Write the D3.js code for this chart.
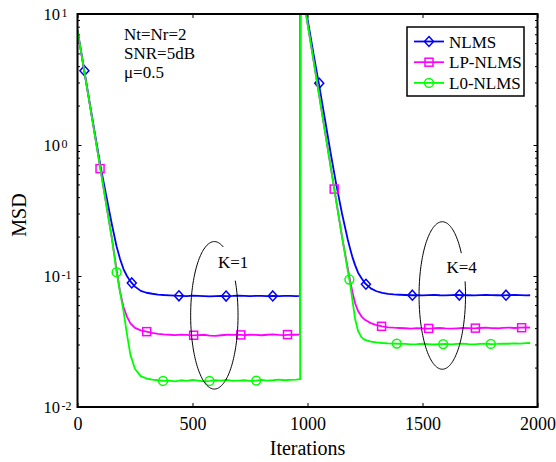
<!DOCTYPE html>
<html>
<head>
<meta charset="utf-8">
<script src="https://cdn.jsdelivr.net/npm/d3@7"></script>
<style>
  body { margin: 0; background: #fff; }
  text { font-family: "Liberation Serif", "Times New Roman", serif !important; fill: #000; }
</style>
</head>
<body>
<div id="chart"></div>
<script>
"use strict";

// == DATA ==
// run 1 (K=1) and run 2 (K=4), iterations
var run1Iter = [0, 25, 50, 75, 100, 125, 150, 170, 185, 200, 215, 230, 250, 275, 300,
  325, 350, 375, 400, 425, 450, 475, 500, 525, 550, 575, 600, 625, 650, 675, 700,
  725, 750, 775, 800, 825, 850, 875, 900, 925, 950, 968];
var run2Iter = [969, 1000, 1025, 1050, 1075, 1100, 1125, 1150, 1175, 1185, 1195, 1207,
  1220, 1235, 1250, 1275, 1300, 1325, 1350, 1375, 1400,
  1425, 1450, 1475, 1500, 1525, 1550, 1575, 1600, 1625, 1650, 1675, 1700, 1725,
  1750, 1775, 1800, 1825, 1850, 1875, 1900, 1925, 1950, 1968];

var nlmsRun1 = [7.5, 4.1, 2.25, 1.24, 0.69, 0.41, 0.245, 0.168, 0.135, 0.113, 0.1, 0.091, 0.083, 0.077, 0.0745,
  0.0732, 0.0722, 0.0716, 0.0712, 0.0708, 0.0706, 0.0703, 0.0707, 0.0704, 0.0701, 0.0698, 0.0703, 0.0706,
  0.0702, 0.0704, 0.0708, 0.0705, 0.0702, 0.0704, 0.0706, 0.0703, 0.0705, 0.0702, 0.0704, 0.0706, 0.0703, 0.0704];
var lpRun1 = [7.5, 4.09, 2.22, 1.2, 0.652, 0.353, 0.191, 0.112, 0.076, 0.058, 0.049, 0.0435, 0.0402, 0.0385, 0.0376,
  0.0368, 0.0362, 0.0358, 0.0356, 0.0354, 0.0357, 0.0355, 0.0352, 0.0354, 0.0356, 0.0351, 0.0349, 0.0353,
  0.0356, 0.0355, 0.0357, 0.0354, 0.0356, 0.0355, 0.0353, 0.0356, 0.0358, 0.0355, 0.0354, 0.0357, 0.0356, 0.0358];
var l0Run1 = [7.5, 4.09, 2.22, 1.2, 0.652, 0.353, 0.191, 0.107, 0.075, 0.054, 0.036, 0.025, 0.0195, 0.0172, 0.0165,
  0.0162, 0.016, 0.0158, 0.0159, 0.0157, 0.016, 0.0158, 0.0161, 0.0159, 0.0157, 0.0158, 0.016, 0.0159,
  0.0161, 0.0158, 0.0159, 0.016, 0.0158, 0.0159, 0.0161, 0.0159, 0.016, 0.0162, 0.016, 0.0161, 0.0162, 0.0163];

var nlmsRun2 = [19, 9.2, 5.1, 2.9, 1.6, 0.88, 0.5, 0.3, 0.19, 0.162, 0.14, 0.121, 0.106, 0.096, 0.088,
  0.0805, 0.0765, 0.0742, 0.073, 0.0723, 0.0719,
  0.0716, 0.0713, 0.0715, 0.0712, 0.0714, 0.0717, 0.0713, 0.0711, 0.0714, 0.0716, 0.0713, 0.0715,
  0.0712, 0.0714, 0.0717, 0.0715, 0.0713, 0.0711, 0.0714, 0.0716, 0.0714, 0.0712, 0.0713];
var lpRun2 = [18.5, 8.5, 4.56, 2.44, 1.3, 0.697, 0.373, 0.2, 0.115, 0.093, 0.076, 0.062, 0.054, 0.049, 0.0463,
  0.0437, 0.0422, 0.0412, 0.0406, 0.0403, 0.0401,
  0.0399, 0.0397, 0.04, 0.0398, 0.0396, 0.0399, 0.0401, 0.0398, 0.0396, 0.0399, 0.0402, 0.04,
  0.0398, 0.0401, 0.0403, 0.04, 0.0399, 0.0402, 0.0404, 0.0401, 0.0403, 0.0405, 0.0404];
var l0Run2 = [18.5, 8.5, 4.56, 2.44, 1.3, 0.697, 0.373, 0.2, 0.11, 0.088, 0.066, 0.047, 0.038, 0.034, 0.0325,
  0.0316, 0.0311, 0.0308, 0.0306, 0.0305, 0.0304,
  0.0303, 0.0301, 0.0302, 0.0304, 0.0302, 0.03, 0.0302, 0.0303, 0.0301, 0.0303, 0.0305, 0.0302,
  0.0301, 0.0303, 0.0304, 0.0302, 0.0303, 0.0305, 0.0304, 0.0306, 0.0305, 0.0307, 0.0308];

// marker positions
var nlmsMarkIter = [30, 236, 441, 646, 849, 1051, 1254, 1456, 1660, 1863];
var nlmsMarkMsd = [3.69, 0.0885, 0.0706, 0.0703, 0.0705, 2.96, 0.0865, 0.0714, 0.0715, 0.0713];
var lpMarkIter = [98, 301, 505, 710, 913, 1116, 1322, 1527, 1730, 1931];
var lpMarkMsd = [0.66, 0.0376, 0.0353, 0.0355, 0.0357, 0.461, 0.0413, 0.0398, 0.04, 0.0403];
var l0MarkIter = [170, 372, 574, 777, 1182, 1388, 1590, 1797];
var l0MarkMsd = [0.107, 0.0158, 0.0158, 0.0159, 0.094, 0.0305, 0.0302, 0.0303];

var seriesNames = ["NLMS", "LP-NLMS", "L0-NLMS"];
var xTicks = [0, 500, 1000, 1500, 2000];
var yTicks = [0.01, 0.1, 1, 10];
var yExps = ["-2", "-1", "0", "1"];
var infoLines = ["Nt=Nr=2", "SNR=5dB", "\u03bc=0.5"];

// == BOILERPLATE ==
var W = 556, H = 462;
var margin = { top: 14, right: 18.5, bottom: 55, left: 77.5 },
    width = W - margin.left - margin.right,
    height = H - margin.top - margin.bottom;

var svg = d3.select("#chart")
            .append("svg")
            .attr("width", W)
            .attr("height", H);

var x = d3.scaleLinear().domain([0, 2000]).range([margin.left, margin.left + width]);
var y = d3.scaleLog().domain([0.01, 10]).range([margin.top + height, margin.top]);

svg.append("clipPath").attr("id", "plotclip")
   .append("rect")
   .attr("x", margin.left).attr("y", margin.top)
   .attr("width", width).attr("height", height);

// minor log ticks
var minor = [];
[0.01, 0.1, 1].forEach(function (d) {
  for (var k = 2; k <= 9; k++) minor.push(d * k);
});

var axes = svg.append("g").attr("class", "axes");
axes.append("g").attr("transform", "translate(0," + (margin.top + height) + ")")
    .call(d3.axisBottom(x).tickValues(xTicks).tickSizeInner(-4).tickSizeOuter(0).tickPadding(10)
          .tickFormat(d3.format("d")));
axes.append("g").attr("transform", "translate(0," + margin.top + ")")
    .call(d3.axisTop(x).tickValues(xTicks).tickSizeInner(-4).tickSizeOuter(0).tickFormat(""));
axes.append("g").attr("transform", "translate(" + margin.left + ",0)")
    .call(d3.axisLeft(y).tickValues(yTicks).tickSizeInner(-4).tickSizeOuter(0).tickFormat(""));
axes.append("g").attr("transform", "translate(" + margin.left + ",0)")
    .call(d3.axisLeft(y).tickValues(minor).tickSizeInner(-2.5).tickSizeOuter(0).tickFormat(""));
axes.append("g").attr("transform", "translate(" + (margin.left + width) + ",0)")
    .call(d3.axisRight(y).tickValues(yTicks).tickSizeInner(-4).tickSizeOuter(0).tickFormat(""));
axes.append("g").attr("transform", "translate(" + (margin.left + width) + ",0)")
    .call(d3.axisRight(y).tickValues(minor).tickSizeInner(-2.5).tickSizeOuter(0).tickFormat(""));
axes.selectAll(".domain").remove();
axes.selectAll(".tick line").attr("stroke", "#000").attr("stroke-width", 1);
axes.selectAll(".tick text").style("font-family", "Liberation Serif").attr("font-size", 18).attr("fill", "#000");

// y labels 10^n
yTicks.forEach(function (v, i) {
  svg.append("text").attr("x", 60).attr("y", y(v) + 6)
     .attr("text-anchor", "end").attr("font-size", 16.5).text("10");
  svg.append("text").attr("x", 61.5).attr("y", y(v) + 3)
     .attr("font-size", 12).text(yExps[i]);
});

// axis titles
svg.append("text")
   .attr("text-anchor", "middle")
   .attr("x", margin.left + width / 2).attr("y", 455)
   .attr("font-size", 20)
   .text("Iterations");
svg.append("text")
   .attr("text-anchor", "middle")
   .attr("transform", "translate(26," + 215 + ") rotate(-90)")
   .attr("font-size", 20)
   .text("MSD");

// == SERIES ==
var colors = ["#0000ff", "#ff00ff", "#00ff00"];
var seriesData = [
  { iter: run1Iter.concat(run2Iter), msd: nlmsRun1.concat(nlmsRun2), mIter: nlmsMarkIter, mMsd: nlmsMarkMsd, shape: "diamond" },
  { iter: run1Iter.concat(run2Iter), msd: lpRun1.concat(lpRun2), mIter: lpMarkIter, mMsd: lpMarkMsd, shape: "square" },
  { iter: run1Iter.concat(run2Iter), msd: l0Run1.concat(l0Run2), mIter: l0MarkIter, mMsd: l0MarkMsd, shape: "circle" }
];

var line = d3.line()
  .x(function (d) { return x(d[0]); })
  .y(function (d) { return y(d[1]); });

function drawMarker(g, shape, cx, cy, color) {
  if (shape === "diamond") {
    g.append("path")
     .attr("d", "M" + cx + "," + (cy - 5) + "L" + (cx + 4.5) + "," + cy + "L" + cx + "," + (cy + 5) + "L" + (cx - 4.5) + "," + cy + "Z")
     .attr("fill", "none").attr("stroke", color).attr("stroke-width", 1.5);
  } else if (shape === "square") {
    g.append("rect").attr("x", cx - 4).attr("y", cy - 4).attr("width", 8).attr("height", 8)
     .attr("fill", "none").attr("stroke", color).attr("stroke-width", 1.5);
  } else {
    g.append("circle").attr("cx", cx).attr("cy", cy).attr("r", 4.4)
     .attr("fill", "none").attr("stroke", color).attr("stroke-width", 1.5);
  }
}

var plot = svg.append("g").attr("clip-path", "url(#plotclip)");
seriesData.forEach(function (s, i) {
  var pts = s.iter.map(function (it, j) { return [it, s.msd[j]]; });
  plot.append("path")
      .attr("d", line(pts))
      .attr("fill", "none")
      .attr("stroke", colors[i])
      .attr("stroke-width", 1.8)
      .attr("stroke-linejoin", "round");
  s.mIter.forEach(function (it, j) {
    drawMarker(plot, s.shape, x(it), y(s.mMsd[j]), colors[i]);
  });
});

// == ANNOTATIONS ==
function ellipse(cIter, cMsd, rIter, rDec, gapFrom, gapTo) {
  var pts = [];
  for (var a = gapTo; a <= gapFrom + 360; a += 2) {
    var t = a * Math.PI / 180;
    pts.push([cIter + rIter * Math.cos(t), Math.pow(10, Math.log10(cMsd) + rDec * Math.sin(t))]);
  }
  svg.append("path").attr("d", line(pts))
     .attr("fill", "none").attr("stroke", "#000").attr("stroke-width", 1);
}
ellipse(595, 0.0501, 103, 0.563, 28, 68);
ellipse(1586, 0.071, 101, 0.563, 11, 35);

svg.append("text").attr("x", 218).attr("y", 268).attr("font-size", 17).text("K=1");
svg.append("text").attr("x", 446.5).attr("y", 273).attr("font-size", 17).text("K=4");

infoLines.forEach(function (t, i) {
  svg.append("text").attr("x", 124).attr("y", 39.5 + i * 19).attr("font-size", 17).text(t);
});

// frame
svg.append("rect")
   .attr("x", margin.left).attr("y", margin.top)
   .attr("width", width).attr("height", height)
   .attr("fill", "none").attr("stroke", "#000").attr("stroke-width", 2);

// legend
var legend = svg.append("g").attr("transform", "translate(407,27)");
legend.append("rect").attr("width", 117).attr("height", 69)
      .attr("fill", "#fff").attr("stroke", "#000").attr("stroke-width", 1.5);
seriesNames.forEach(function (name, i) {
  var ly = 14.5 + i * 20.7;
  legend.append("line").attr("x1", 7).attr("x2", 37).attr("y1", ly).attr("y2", ly)
        .attr("stroke", colors[i]).attr("stroke-width", 1.8);
  drawMarker(legend, seriesData[i].shape, 22, ly, colors[i]);
  legend.append("text").attr("x", 42).attr("y", ly + 6).attr("font-size", 17).text(name);
});
</script>
</body>
</html>
